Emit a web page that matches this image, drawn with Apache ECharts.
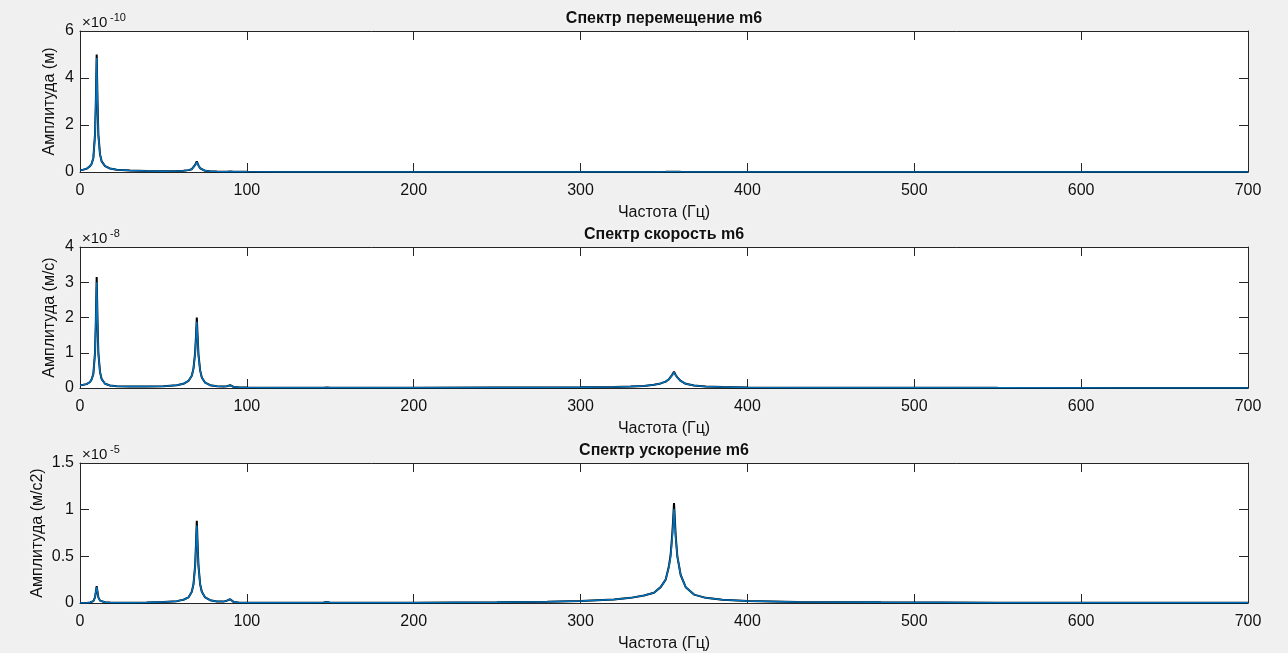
<!DOCTYPE html>
<html>
<head>
<meta charset="utf-8">
<script src="https://cdn.jsdelivr.net/npm/echarts@6/dist/echarts.min.js"></script>
<style>
  html, body { margin: 0; padding: 0; background: #f0f0f0; }
  #chart { width: 1288px; height: 653px; }
</style>
</head>
<body>
<div id="chart"></div>
<script>
// frequency samples (Hz), denser around the resonances
var freq = [0, 2, 4, 6, 7, 8, 9, 9.5, 10, 10.5, 11, 12, 13, 15, 18, 22, 30, 40, 50, 58,
  62, 65, 67, 68, 69, 69.5, 70, 70.5, 71, 72, 73, 75, 78, 82, 86, 88, 89, 90, 91, 92,
  95, 100, 120, 140, 146, 148, 150, 160, 200, 250, 280, 300, 320, 330, 338, 344, 348, 351, 353, 354,
  355, 355.5, 356, 356.5, 357, 358, 360, 363, 368, 375, 385, 400, 430, 480, 550, 620, 700];

// displacement, x1e-10 m
var dispBlack = [0.08, 0.1, 0.14, 0.25, 0.35, 0.6, 1.6, 3.0, 5.0, 3.0, 1.6, 0.75, 0.45, 0.25, 0.15, 0.1, 0.06, 0.04, 0.03, 0.04,
  0.05, 0.08, 0.12, 0.18, 0.3, 0.38, 0.45, 0.38, 0.28, 0.16, 0.1, 0.05, 0.03, 0.02, 0.015, 0.015, 0.015, 0.02, 0.015, 0.012,
  0.01, 0.008, 0.005, 0.004, 0.003, 0.003, 0.003, 0.003, 0.002, 0.002, 0.002, 0.002, 0.002, 0.003, 0.003, 0.004, 0.005, 0.006, 0.008, 0.009,
  0.01, 0.011, 0.012, 0.011, 0.01, 0.008, 0.006, 0.004, 0.003, 0.002, 0.002, 0.002, 0.001, 0.001, 0.001, 0.001, 0.001];
var dispBlue = [0.08, 0.1, 0.14, 0.25, 0.35, 0.6, 1.55, 2.9, 4.85, 2.9, 1.55, 0.75, 0.45, 0.25, 0.15, 0.1, 0.06, 0.04, 0.03, 0.04,
  0.05, 0.08, 0.12, 0.18, 0.29, 0.36, 0.42, 0.36, 0.27, 0.16, 0.1, 0.05, 0.03, 0.02, 0.015, 0.015, 0.015, 0.02, 0.015, 0.012,
  0.01, 0.008, 0.005, 0.004, 0.003, 0.003, 0.003, 0.003, 0.002, 0.002, 0.002, 0.002, 0.002, 0.003, 0.003, 0.004, 0.005, 0.006, 0.008, 0.009,
  0.01, 0.011, 0.012, 0.011, 0.01, 0.008, 0.006, 0.004, 0.003, 0.002, 0.002, 0.002, 0.001, 0.001, 0.001, 0.001, 0.001];

// velocity, x1e-8 m/s
var velBlack = [0.08, 0.09, 0.11, 0.17, 0.25, 0.4, 1.0, 1.9, 3.15, 1.9, 1.0, 0.45, 0.25, 0.12, 0.07, 0.05, 0.04, 0.04, 0.05, 0.08,
  0.12, 0.2, 0.35, 0.55, 1.0, 1.45, 2.0, 1.45, 0.95, 0.5, 0.3, 0.15, 0.08, 0.05, 0.04, 0.05, 0.06, 0.08, 0.05, 0.03,
  0.02, 0.015, 0.01, 0.01, 0.01, 0.012, 0.01, 0.01, 0.01, 0.012, 0.015, 0.02, 0.03, 0.04, 0.06, 0.09, 0.13, 0.18, 0.25, 0.3,
  0.38, 0.42, 0.46, 0.42, 0.37, 0.3, 0.2, 0.12, 0.07, 0.04, 0.025, 0.015, 0.01, 0.006, 0.004, 0.003, 0.002];
var velBlue = [0.08, 0.09, 0.11, 0.17, 0.25, 0.4, 0.98, 1.85, 3.0, 1.85, 0.98, 0.45, 0.25, 0.12, 0.07, 0.05, 0.04, 0.04, 0.05, 0.08,
  0.12, 0.2, 0.35, 0.55, 0.97, 1.4, 1.88, 1.4, 0.92, 0.5, 0.3, 0.15, 0.08, 0.05, 0.04, 0.05, 0.06, 0.07, 0.05, 0.03,
  0.02, 0.015, 0.01, 0.01, 0.01, 0.012, 0.01, 0.01, 0.01, 0.012, 0.015, 0.02, 0.03, 0.04, 0.06, 0.09, 0.13, 0.18, 0.25, 0.3,
  0.37, 0.41, 0.44, 0.41, 0.36, 0.3, 0.2, 0.12, 0.07, 0.04, 0.025, 0.015, 0.01, 0.006, 0.004, 0.003, 0.002];

// acceleration, x1e-5 m/s2
var accBlack = [0.0, 0.0, 0.001, 0.005, 0.01, 0.02, 0.06, 0.12, 0.18, 0.12, 0.06, 0.025, 0.015, 0.008, 0.005, 0.004, 0.004, 0.006, 0.01, 0.02,
  0.035, 0.06, 0.12, 0.2, 0.4, 0.62, 0.88, 0.62, 0.4, 0.2, 0.12, 0.06, 0.03, 0.015, 0.015, 0.025, 0.035, 0.04, 0.025, 0.012,
  0.006, 0.004, 0.003, 0.003, 0.005, 0.012, 0.004, 0.003, 0.004, 0.008, 0.014, 0.022, 0.038, 0.055, 0.08, 0.11, 0.17, 0.25, 0.4, 0.52,
  0.75, 0.9, 1.07, 0.9, 0.72, 0.5, 0.3, 0.17, 0.09, 0.055, 0.035, 0.022, 0.012, 0.007, 0.004, 0.003, 0.002];
var accBlue = [0.0, 0.0, 0.001, 0.005, 0.01, 0.02, 0.06, 0.12, 0.17, 0.12, 0.06, 0.025, 0.015, 0.008, 0.005, 0.004, 0.004, 0.006, 0.01, 0.02,
  0.035, 0.06, 0.12, 0.2, 0.39, 0.6, 0.83, 0.6, 0.39, 0.2, 0.12, 0.06, 0.03, 0.015, 0.015, 0.025, 0.035, 0.04, 0.025, 0.012,
  0.006, 0.004, 0.003, 0.003, 0.005, 0.01, 0.004, 0.003, 0.004, 0.008, 0.014, 0.022, 0.038, 0.055, 0.08, 0.11, 0.17, 0.25, 0.39, 0.5,
  0.72, 0.86, 1.01, 0.86, 0.7, 0.5, 0.3, 0.17, 0.09, 0.055, 0.035, 0.022, 0.012, 0.007, 0.004, 0.003, 0.002];

var titles = ['Спектр перемещение m6', 'Спектр скорость m6', 'Спектр ускорение m6'];
var yNames = ['Амплитуда (м)', 'Амплитуда (м/с)', 'Амплитуда (м/с2)'];
var exponents = ['-10', '-8', '-5'];
var yMax = [6, 4, 1.5];
var yStep = [2, 1, 0.5];
var xName = 'Частота (Гц)';
var blackSeries = [dispBlack, velBlack, accBlack];
var blueSeries = [dispBlue, velBlue, accBlue];

var tops = [31, 247, 463];
var plotH = 141;
var yNameGap = [22, 22, 34];
var axisColor = '#262626';
var txtColor = '#111';
var font = 'Liberation Sans';
var halo = { textShadowColor: '#fff', textShadowBlur: 4 };

function pairs(arr) {
  return freq.map(function (f, i) { return [f, arr[i]]; });
}

var grid = [], xAxis = [], yAxis = [], series = [], graphic = [];
for (var p = 0; p < 3; p++) {
  grid.push({ left: 80, right: 40, top: tops[p], height: plotH, show: true,
    backgroundColor: '#fff', borderWidth: 0 });

  var tick = { show: true, inside: true, length: 9, lineStyle: { color: axisColor } };
  var line = { show: true, onZero: false, lineStyle: { color: axisColor } };
  xAxis.push({
    type: 'value', gridIndex: p, min: 0, max: 700, interval: 100,
    name: xName, nameLocation: 'middle', nameGap: 33,
    nameTextStyle: Object.assign({ color: txtColor, fontSize: 16, fontFamily: font }, halo),
    axisLine: line, axisTick: tick,
    axisLabel: Object.assign({ color: txtColor, fontSize: 16, margin: 11, fontFamily: font }, halo),
    splitLine: { show: false }
  });
  xAxis.push({
    type: 'value', gridIndex: p, position: 'top', min: 0, max: 700, interval: 100,
    axisLine: line, axisTick: tick, axisLabel: { show: false }, splitLine: { show: false }
  });
  yAxis.push({
    type: 'value', gridIndex: p, min: 0, max: yMax[p], interval: yStep[p],
    name: yNames[p], nameLocation: 'middle', nameGap: yNameGap[p], nameRotate: 90,
    nameMoveOverlap: false,
    nameTextStyle: Object.assign({ color: txtColor, fontSize: 16, fontFamily: font }, halo),
    axisLine: line, axisTick: tick,
    axisLabel: Object.assign({ color: txtColor, fontSize: 16, margin: 6, fontFamily: font }, halo),
    splitLine: { show: false }
  });
  yAxis.push({
    type: 'value', gridIndex: p, position: 'right', min: 0, max: yMax[p], interval: yStep[p],
    axisLine: line, axisTick: tick, axisLabel: { show: false }, splitLine: { show: false }
  });

  series.push({
    type: 'line', xAxisIndex: 2 * p, yAxisIndex: 2 * p, data: pairs(blackSeries[p]),
    showSymbol: false, lineStyle: { color: '#000', width: 2 }, z: 2
  });
  series.push({
    type: 'line', xAxisIndex: 2 * p, yAxisIndex: 2 * p, data: pairs(blueSeries[p]),
    showSymbol: false, lineStyle: { color: '#0072bd', width: 1.5 }, z: 3
  });

  graphic.push({
    type: 'text', x: 664, y: tops[p] - 20,
    style: Object.assign({ text: titles[p], fill: txtColor, font: 'bold 16px "Liberation Sans"',
      align: 'center' }, halo)
  });
  graphic.push({
    type: 'text', x: 82, y: tops[p] - 16,
    style: Object.assign({ text: '×10', fill: txtColor, font: '15px "Liberation Sans"' }, halo)
  });
  graphic.push({
    type: 'text', x: 110, y: tops[p] - 19,
    style: Object.assign({ text: exponents[p], fill: txtColor, font: '11px "Liberation Sans"' }, halo)
  });
}

var chart = echarts.init(document.getElementById('chart'));
chart.setOption({
  backgroundColor: '#f0f0f0',
  animation: false,
  grid: grid,
  xAxis: xAxis,
  yAxis: yAxis,
  series: series,
  graphic: graphic
});
</script>
</body>
</html>
